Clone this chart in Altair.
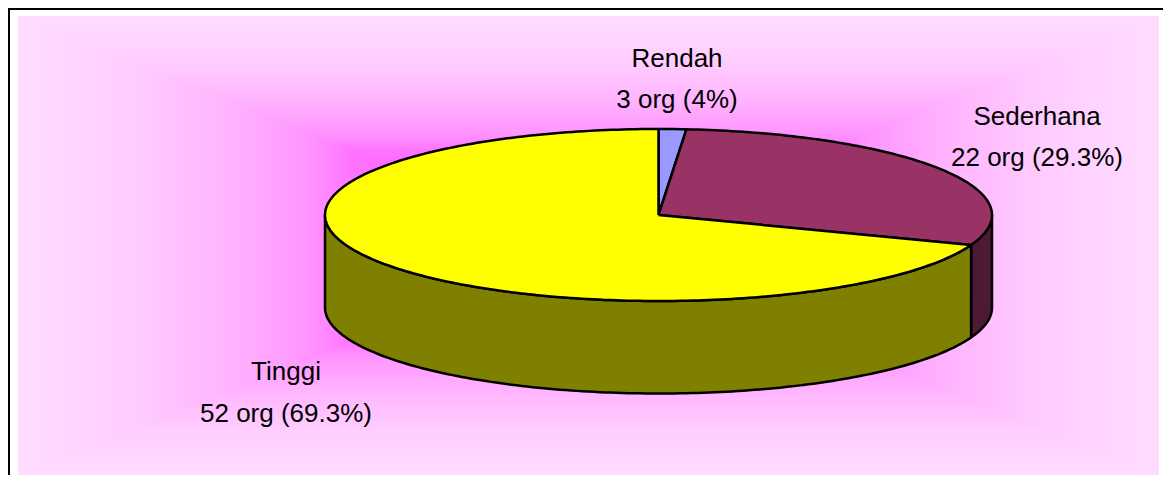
import math
import altair as alt
import pandas as pd

# ---- data ----
categories = ["Rendah", "Sederhana", "Tinggi"]
plotted_values = [1, 22, 52]
label_counts = ["3 org (4%)", "22 org (29.3%)", "52 org (69.3%)"]

# ---- style / layout ----
top_colors = ["#9999FF", "#993366", "#FFFF00"]
wall_colors = ["#4D4D80", "#4D1A33", "#808000"]
CX, CY, RX, RY, DEPTH = 658.5, 215.0, 333.5, 86.0, 92.5
W, H = 1155, 467
FONT = "Liberation Sans Narrow, Liberation Sans"
FS = 26
LW = 2.5


def X(px):
    return (px - CX) / RX


def Y(py):
    return (CY - py) / RY


x_scale = alt.Scale(domain=[X(8), X(8 + W)], nice=False, zero=False)
y_scale = alt.Scale(domain=[Y(8 + H), Y(8)], nice=False, zero=False)
xe = alt.X("x:Q", scale=x_scale, axis=None)
ye = alt.Y("y:Q", scale=y_scale, axis=None)

# background: rectangular "from centre" gradient
L, R_, T, B = 18.0, 1159.0, 16.0, 475.0
mx, my, hw, hh = (L + R_) / 2, (T + B) / 2, (R_ - L) / 2, (B - T) / 2
steps = [1 - i * 0.01 for i in range(0, 71)]
bg = pd.DataFrame(
    {
        "x": [X(mx - hw * t) for t in steps],
        "x2": [X(mx + hw * t) for t in steps],
        "y": [Y(my + hh * t) for t in steps],
        "y2": [Y(my - hh * t) for t in steps],
        "t": steps,
    }
)
bg_layer = (
    alt.Chart(bg)
    .mark_rect(strokeWidth=0)
    .encode(
        x=xe,
        x2="x2:Q",
        y=ye,
        y2="y2:Q",
        color=alt.Color(
            "t:Q",
            legend=None,
            scale=alt.Scale(
                domain=[0.3, 0.42, 0.5, 0.65, 0.8, 1.0],
                range=["#FF60FF", "#FF74FF", "#FF96FF", "#FFB6FF", "#FFCCFF", "#FFDCFF"],
            ),
        ),
    )
)

# partial frame (top and left edges show)
frame = pd.DataFrame({"x": [X(9)], "x2": [X(1400)], "y": [Y(900)], "y2": [Y(9)]})
frame_layer = (
    alt.Chart(frame)
    .mark_rect(fill="white", stroke="black", strokeWidth=2)
    .encode(x=xe, x2="x2:Q", y=ye, y2="y2:Q")
)


def arc_points(a0, a1):
    n = max(2, int(abs(a1 - a0) / 1.0) + 1)
    return [a0 + (a1 - a0) * i / n for i in range(n + 1)]


total = sum(plotted_values)
bounds = [0.0]
for v in plotted_values:
    bounds.append(bounds[-1] + 360.0 * v / total)

wall_layers = []
top_layers = []
for i, cat in enumerate(categories):
    a0, a1 = bounds[i], bounds[i + 1]
    # top sector
    pts = [(0.0, 0.0)]
    for a in arc_points(a0, a1):
        r = math.radians(a)
        pts.append((math.sin(r), math.cos(r)))
    pts.append((0.0, 0.0))
    df = pd.DataFrame(pts, columns=["x", "y"]).assign(o=range(len(pts)))
    top_layers.append(
        alt.Chart(df)
        .mark_line(fill=top_colors[i], stroke="black", strokeWidth=LW, strokeJoin="round", clip=False)
        .encode(x=xe, y=ye, order="o:Q")
    )
    # front wall
    w0, w1 = max(a0, 90.0), min(a1, 270.0)
    if w1 > w0:
        arc = [(math.sin(math.radians(a)), math.cos(math.radians(a))) for a in arc_points(w0, w1)]
        d = DEPTH / RY
        poly = arc + [(px, py - d) for px, py in reversed(arc)] + [arc[0]]
        dfw = pd.DataFrame(poly, columns=["x", "y"]).assign(o=range(len(poly)))
        wall_layers.append(
            alt.Chart(dfw)
            .mark_line(fill=wall_colors[i], stroke="black", strokeWidth=LW, strokeJoin="round")
            .encode(x=xe, y=ye, order="o:Q")
        )

# labels
label_anchor_px = {"Rendah": (677, 67, 108), "Sederhana": (1037, 125, 166), "Tinggi": (286, 380, 422)}
rows = []
for cat, cnt in zip(categories, label_counts):
    ax, y1, y2 = label_anchor_px[cat]
    rows.append({"x": X(ax), "y": Y(y1), "text": cat})
    rows.append({"x": X(ax), "y": Y(y2), "text": cnt})
text_layer = (
    alt.Chart(pd.DataFrame(rows))
    .mark_text(font=FONT, fontSize=FS, color="black", align="center", baseline="alphabetic")
    .encode(x=xe, y=ye, text="text:N")
)

chart = (
    alt.layer(frame_layer, bg_layer, *wall_layers, *top_layers, text_layer)
    .resolve_scale(color="independent")
    .properties(width=W, height=H, padding=0, autosize=alt.AutoSizeParams(type="none"), background="white")
    .configure_view(stroke=None)
)
chart.save("out.html", embed_options={"renderer": "svg", "actions": False})
